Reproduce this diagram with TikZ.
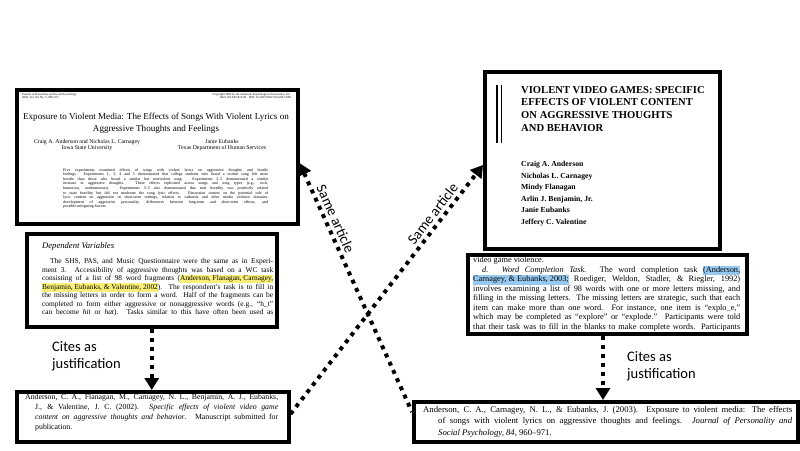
\documentclass[tikz,border=0pt]{standalone}
\usepackage{fontspec}
\setmainfont{Liberation Serif}
\newfontfamily\labelfont{Carlito}
\usetikzlibrary{arrows.meta,calc}
\definecolor{hlyel}{RGB}{250,240,120}
\definecolor{hlblu}{RGB}{150,200,240}
\newcommand{\hly}[1]{{\setlength{\fboxsep}{0pt}\colorbox{hlyel}{\strut #1}}}
\newcommand{\hlb}[1]{{\setlength{\fboxsep}{0pt}\colorbox{hlblu}{\strut #1}}}
\newcommand{\jl}[2]{\makebox[#1][s]{#2}}
\begin{document}
\begin{tikzpicture}[x=1pt,y=1pt,
  paper/.style={draw=black, line width=3.5pt, fill=white, inner sep=0pt, anchor=north west},
  txt/.style={inner sep=0pt, align=left, anchor=north west},
  cite/.style={line width=4pt, dash pattern=on 4pt off 5pt, -{Triangle[length=12pt,width=14pt]}},
  same/.style={line width=4pt, dash pattern=on 4pt off 5pt, {Triangle[length=12pt,width=14pt]}-},
  lbl/.style={font=\labelfont\fontsize{14.5}{17}\selectfont, align=left, inner sep=0pt}]
\fill[white] (0,0) rectangle (800,-450);
\useasboundingbox (0,0) rectangle (800,-450);

% ---------- boxes ----------
\node[paper, minimum width=281pt, minimum height=134pt] (b1) at (15,-88) {};
\node[paper, minimum width=250pt, minimum height=93pt] (b2) at (25,-232) {};
\node[paper, minimum width=272pt, minimum height=50pt] (b3) at (15,-390) {};
\node[paper, minimum width=235pt, minimum height=177pt] (b4) at (483,-70) {};
\node[paper, minimum width=279pt, minimum height=79pt] (b5) at (466,-253) {};
\node[paper, minimum width=384pt, minimum height=40pt] (b6) at (412,-400) {};

% ---------- box 1: article front page ----------
\node[txt, font=\fontsize{3}{3.6}\selectfont] (h1) at (22,-93)
  {Journal of Personality and Social Psychology\\2003, Vol. 84, No. 5, 960–971};
\node[inner sep=0pt, align=right, anchor=north east, font=\fontsize{3}{3.6}\selectfont] (h2) at (291,-93)
  {Copyright 2003 by the American Psychological Association, Inc.\\0022-3514/03/\$12.00\quad DOI: 10.1037/0022-3514.84.5.960};
\node[inner sep=0pt, align=center, font=\fontsize{9.1}{12}\selectfont] (t1) at (156,-123)
  {Exposure to Violent Media: The Effects of Songs With Violent Lyrics on\\Aggressive Thoughts and Feelings};
\node[inner sep=0pt, align=center, font=\fontsize{5.8}{6}\selectfont] (au1) at (87,-145)
  {Craig A. Anderson and Nicholas L. Carnagey\\Iowa State University};
\node[inner sep=0pt, align=center, font=\fontsize{5.8}{6}\selectfont] (au2) at (222,-145)
  {Janie Eubanks\\Texas Department of Human Services};
\node[txt, font=\fontsize{4}{4.6}\selectfont] (ab) at (63,-168)
  {\jl{205pt}{Five experiments examined effects of songs with violent lyrics on aggressive thoughts and hostile}\\
   \jl{205pt}{feelings. Experiments 1, 3, 4 and 5 demonstrated that college students who heard a violent song felt more}\\
   \jl{205pt}{hostile than those who heard a similar but nonviolent song. Experiments 2–5 demonstrated a similar}\\
   \jl{205pt}{increase in aggressive thoughts. These effects replicated across songs and song types (e.g., rock,}\\
   \jl{205pt}{humorous, nonhumorous). Experiments 3–5 also demonstrated that trait hostility was positively related}\\
   \jl{205pt}{to state hostility but did not moderate the song lyric effects. Discussion centers on the potential role of}\\
   \jl{205pt}{lyric content on aggression in short-term settings, relation to catharsis and other media violence domains,}\\
   \jl{205pt}{development of aggressive personality, differences between long-term and short-term effects, and}\\
   possible mitigating factors.};

% ---------- box 2: dependent variables ----------
\node[inner sep=0pt, anchor=base west, font=\itshape\fontsize{8.6}{10}\selectfont] (dv) at (42,-248) {Dependent Variables};
\node[txt, font=\fontsize{7.4}{8.45}\selectfont] (p2) at (42,-258.5)
  {\jl{231pt}{\hspace{8pt}The SHS, PAS, and Music Questionnaire were the same as in Experi-}\\
   \jl{231pt}{ment 3. Accessibility of aggressive thoughts was based on a WC task}\\
   \jl{231pt}{consisting of a list of 98 word fragments (\hly{Anderson, Flanagan, Carnagey,}}\\
   \jl{231pt}{\hly{Benjamin, Eubanks, \& Valentine, 2002}). The respondent’s task is to fill in}\\
   \jl{231pt}{the missing letters in order to form a word. Half of the fragments can be}\\
   \jl{231pt}{completed to form either aggressive or nonaggressive words (e.g., “h\_t”}\\
   \jl{231pt}{can become \textit{hit} or \textit{hat}). Tasks similar to this have often been used as}};

% ---------- box 3: reference 2002 ----------
\node[txt, font=\fontsize{7.8}{10}\selectfont] (r1) at (25,-393.5)
  {\jl{253pt}{Anderson, C. A., Flanagan, M., Carnagey, N. L., Benjamin, A. J., Eubanks,}\\
   \hspace*{10pt}\jl{243pt}{J., \& Valentine, J. C. (2002). \textit{Specific effects of violent video game}}\\
   \hspace*{10pt}\jl{243pt}{\textit{content on aggressive thoughts and behavior}. Manuscript submitted for}\\
   \hspace*{10pt}publication.};

% ---------- box 4: 2002 manuscript title page ----------
\draw[line width=2.3pt] (497,-85) -- (497,-143);
\draw[line width=1pt] (501.5,-85) -- (501.5,-143);
\node[txt, font=\bfseries\fontsize{10.6}{12.7}\selectfont] (vt) at (521,-86)
  {VIOLENT VIDEO GAMES: SPECIFIC\\EFFECTS OF VIOLENT CONTENT\\ON AGGRESSIVE THOUGHTS\\AND BEHAVIOR};
\node[txt, font=\bfseries\fontsize{7.7}{11.6}\selectfont] (va) at (521,-161)
  {Craig A. Anderson\\Nicholas L. Carnagey\\Mindy Flanagan\\Arlin J. Benjamin, Jr.\\Janie Eubanks\\Jeffery C. Valentine};

% ---------- box 5: word completion task ----------
\begin{scope}
\clip ([shift={(1.75pt,-1.75pt)}]b5.north west) rectangle ([shift={(-1.75pt,1.75pt)}]b5.south east);
\node[txt, font=\fontsize{8.3}{9.5}\selectfont] (wc) at (473,-257)
  {video game violence.\\
   \jl{267pt}{\hspace{9pt}\textit{d. Word Completion Task.} The word completion task \hlb{(Anderson,}}\\
   \jl{267pt}{\hlb{Carnagey, \& Eubanks, 2003;} Roediger, Weldon, Stadler, \& Riegler, 1992)}\\
   \jl{267pt}{involves examining a list of 98 words with one or more letters missing, and}\\
   \jl{267pt}{filling in the missing letters. The missing letters are strategic, such that each}\\
   \jl{267pt}{item can make more than one word. For instance, one item is “explo\_e,”}\\
   \jl{267pt}{which may be completed as “explore” or “explode.” Participants were told}\\
   \jl{267pt}{that their task was to fill in the blanks to make complete words. Participants}};
\end{scope}

% ---------- box 6: reference 2003 ----------
\node[txt, font=\fontsize{8.7}{11.5}\selectfont] (r2) at (423,-406)
  {\jl{369pt}{Anderson, C. A., Carnagey, N. L., \& Eubanks, J. (2003). Exposure to violent media: The effects}\\
   \hspace*{15pt}\jl{354pt}{of songs with violent lyrics on aggressive thoughts and feelings. \textit{Journal of Personality and}}\\
   \hspace*{15pt}\textit{Social Psychology, 84}, 960–971.};

% ---------- connectors ----------
\coordinate (cx) at (603,0);
\draw[cite] (b2.south) -- (b2.south |- b3.north);
\draw[cite] (b5.south -| cx) -- (b6.north -| cx);
\node[lbl, anchor=north west] (cl1) at (52,-341) {Cites as\\justification};
\node[lbl, anchor=north west] (cl2) at (627,-351) {Cites as\\justification};

\draw[same] ([yshift=-75pt]b1.north east) --
  node[lbl, sloped, above, pos=0.24, inner sep=3pt] (sa1) {Same article}
  ([yshift=-12pt]b6.north west);
\draw[cite] ([yshift=-24pt]b3.north east) --
  node[lbl, sloped, above, pos=0.78, inner sep=3pt] (sa2) {Same article}
  ([yshift=-95pt]b4.north west);
\end{tikzpicture}
\end{document}
